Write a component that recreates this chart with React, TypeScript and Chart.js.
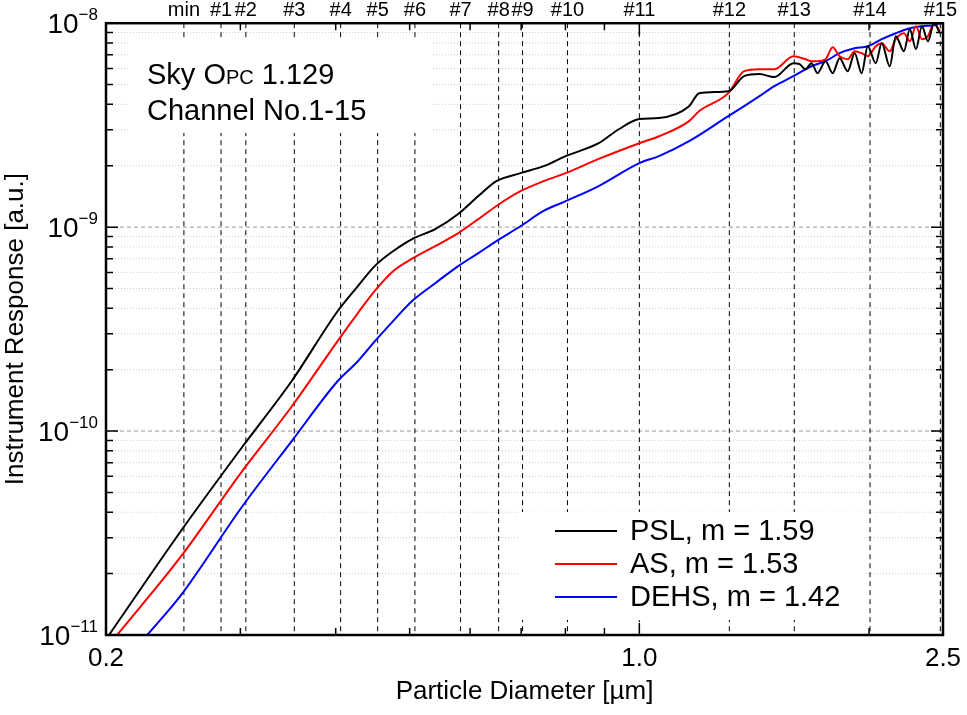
import { useEffect, useRef } from "react";
import { Chart, registerables } from "chart.js";
Chart.register(...registerables);

const channelLabels = ["min", "#1", "#2", "#3", "#4", "#5", "#6", "#7", "#8", "#9", "#10", "#11", "#12", "#13", "#14", "#15"];
const channelDiameters = [0.253, 0.283, 0.305, 0.353, 0.406, 0.454, 0.508, 0.583, 0.654, 0.703, 0.805, 1.0, 1.312, 1.596, 2.006, 2.48];

const pslD = [0.2018, 0.2502, 0.302, 0.3503, 0.4025, 0.4277, 0.4503, 0.4756, 0.5037, 0.5401, 0.5789, 0.6152, 0.6497, 0.6985, 0.749, 0.8006, 0.8845, 0.9399, 1.0, 1.061, 1.162, 1.198, 1.308, 1.372, 1.437, 1.503, 1.592, 1.622, 1.651, 1.681, 1.712, 1.754, 1.792, 1.83, 1.875, 1.915, 1.956, 1.992, 2.041, 2.078, 2.129, 2.168, 2.222, 2.262, 2.304, 2.346, 2.389, 2.433, 2.477];
const pslR = [0.001, 0.0032, 0.0084, 0.0176, 0.0388, 0.0514, 0.0646, 0.0762, 0.0874, 0.0978, 0.116, 0.142, 0.168, 0.184, 0.199, 0.223, 0.258, 0.302, 0.339, 0.343, 0.392, 0.454, 0.464, 0.55, 0.563, 0.544, 0.637, 0.63, 0.595, 0.637, 0.569, 0.651, 0.569, 0.674, 0.582, 0.713, 0.569, 0.771, 0.637, 0.798, 0.615, 0.864, 0.729, 0.935, 0.746, 0.967, 0.816, 1.0, 0.893];

const asD = [0.2068, 0.2502, 0.302, 0.3503, 0.4025, 0.4277, 0.4503, 0.4756, 0.5037, 0.5401, 0.5789, 0.6152, 0.6497, 0.6985, 0.749, 0.8006, 0.8845, 1.0, 1.061, 1.162, 1.198, 1.308, 1.372, 1.437, 1.503, 1.592, 1.651, 1.681, 1.712, 1.754, 1.792, 1.83, 1.875, 1.915, 1.956, 1.992, 2.041, 2.078, 2.129, 2.168, 2.222, 2.262, 2.304, 2.346, 2.389, 2.433, 2.477];
const asR = [0.001, 0.0024, 0.0064, 0.0132, 0.0277, 0.0379, 0.0488, 0.0608, 0.07, 0.0807, 0.0935, 0.1095, 0.127, 0.15, 0.168, 0.184, 0.216, 0.258, 0.279, 0.331, 0.371, 0.454, 0.582, 0.595, 0.595, 0.689, 0.666, 0.651, 0.651, 0.666, 0.763, 0.689, 0.666, 0.729, 0.713, 0.689, 0.771, 0.798, 0.729, 0.835, 0.893, 0.816, 0.967, 0.835, 0.864, 1.0, 0.914];

const dehsD = [0.2265, 0.2502, 0.302, 0.3503, 0.4025, 0.4277, 0.4503, 0.4756, 0.5037, 0.5401, 0.5789, 0.6152, 0.6497, 0.6985, 0.749, 0.8006, 0.8845, 1.0, 1.061, 1.162, 1.308, 1.372, 1.437, 1.503, 1.592, 1.681, 1.754, 1.83, 1.915, 1.992, 2.078, 2.168, 2.262, 2.346, 2.433, 2.477];
const dehsR = [0.001, 0.00155, 0.00429, 0.00893, 0.0176, 0.022, 0.0276, 0.0346, 0.0434, 0.0531, 0.0644, 0.0746, 0.0854, 0.101, 0.12, 0.134, 0.159, 0.206, 0.223, 0.264, 0.35, 0.392, 0.439, 0.491, 0.55, 0.615, 0.651, 0.713, 0.754, 0.771, 0.835, 0.893, 0.945, 0.967, 0.978, 1.0];

const SCALE = 1e-8;
const legendItems = [
  { label: "PSL, m = 1.59", color: "#000000" },
  { label: "AS, m = 1.53", color: "#ff0000" },
  { label: "DEHS, m = 1.42", color: "#0000ff" },
];
const yDecades = [-11, -10, -9, -8];
const xTickValues = [0.2, 1.0, 2.5];
const xTickLabels = ["0.2", "1.0", "2.5"];
const xMinor = [0.3, 0.4, 0.5, 0.6, 0.7, 0.8, 0.9, 2];
const FONT = "'Liberation Sans', Arial, sans-serif";

export default function App() {
  const ref = useRef<HTMLCanvasElement>(null);
  useEffect(() => {
    document.body.style.margin = "0";
    const pts = (d: number[], r: number[]) => d.map((x, i) => ({ x, y: r[i] * SCALE }));
    const deco = {
      id: "deco",
      beforeDatasetsDraw(chart: any) {
        const { ctx, chartArea: a, scales } = chart;
        const xs = scales.x, ys = scales.y;
        ctx.save();
        for (let e = -11; e < -8; e++) {
          for (let m = 1; m <= 9; m++) {
            const y = ys.getPixelForValue(m * Math.pow(10, e));
            ctx.beginPath();
            if (m === 1) { ctx.setLineDash([4, 3]); ctx.strokeStyle = "#999"; }
            else { ctx.setLineDash([1, 2]); ctx.strokeStyle = "#ccc"; }
            ctx.lineWidth = 1;
            ctx.moveTo(a.left, y); ctx.lineTo(a.right, y); ctx.stroke();
          }
        }
        ctx.setLineDash([5, 4]); ctx.strokeStyle = "#000"; ctx.lineWidth = 1;
        ctx.font = `20px ${FONT}`; ctx.fillStyle = "#000"; ctx.textAlign = "center"; ctx.textBaseline = "middle";
        channelDiameters.forEach((d, i) => {
          const x = xs.getPixelForValue(d);
          ctx.beginPath(); ctx.moveTo(x, a.top); ctx.lineTo(x, a.bottom); ctx.stroke();
          ctx.fillText(channelLabels[i], x, 10);
        });
        ctx.setLineDash([]);
        ctx.fillStyle = "#fff";
        ctx.fillRect(128, 40, 305, 93);
        ctx.fillStyle = "#000"; ctx.textAlign = "left"; ctx.textBaseline = "alphabetic";
        ctx.font = `29px ${FONT}`;
        let x0 = 147;
        ctx.fillText("Sky O", x0, 84); x0 += ctx.measureText("Sky O").width;
        ctx.font = `20px ${FONT}`; ctx.fillText("PC", x0, 84); x0 += ctx.measureText("PC").width;
        ctx.font = `29px ${FONT}`; ctx.fillText(" 1.129", x0, 84);
        ctx.fillText("Channel No.1-15", 147, 120);
        ctx.fillStyle = "#fff";
        ctx.fillRect(518, 512, 345, 108);
        ctx.font = `29px ${FONT}`; ctx.textBaseline = "middle";
        legendItems.forEach((it, i) => {
          const y = 531 + i * 33;
          ctx.strokeStyle = it.color; ctx.lineWidth = 2;
          ctx.beginPath(); ctx.moveTo(555, y); ctx.lineTo(617, y); ctx.stroke();
          ctx.fillStyle = "#000"; ctx.fillText(it.label, 630, y + 1);
        });
        ctx.restore();
      },
      afterDraw(chart: any) {
        const { ctx, chartArea: a, scales } = chart;
        const xs = scales.x, ys = scales.y;
        ctx.save();
        ctx.strokeStyle = "#000"; ctx.lineWidth = 1.5;
        for (let e = -11; e <= -8; e++) {
          for (let m = 1; m <= 9; m++) {
            const v = m * Math.pow(10, e);
            if (v > 1.0001e-8) break;
            const y = ys.getPixelForValue(v);
            const L = m === 1 ? 12 : 7;
            ctx.beginPath();
            ctx.moveTo(a.left, y); ctx.lineTo(a.left + L, y);
            ctx.moveTo(a.right, y); ctx.lineTo(a.right - L, y);
            ctx.stroke();
          }
        }
        [...xTickValues, ...xMinor].forEach((v) => {
          const x = xs.getPixelForValue(v);
          const L = v === 1 ? 12 : 7;
          ctx.beginPath();
          ctx.moveTo(x, a.bottom); ctx.lineTo(x, a.bottom - L);
          ctx.moveTo(x, a.top); ctx.lineTo(x, a.top + L);
          ctx.stroke();
        });
        ctx.lineWidth = 2.5;
        ctx.strokeRect(a.left, a.top, a.right - a.left, a.bottom - a.top);
        // y tick labels: 10 with superscript exponent
        ctx.fillStyle = "#000"; ctx.textBaseline = "alphabetic"; ctx.textAlign = "left";
        yDecades.forEach((e) => {
          const y = ys.getPixelForValue(Math.pow(10, e));
          const sup = "−" + String(-e);
          ctx.font = `17px ${FONT}`; const ws = ctx.measureText(sup).width;
          ctx.font = `28px ${FONT}`; const wb = ctx.measureText("10").width;
          const right = a.left - 8;
          ctx.fillText("10", right - ws - wb, y + 10);
          ctx.font = `17px ${FONT}`; ctx.fillText(sup, right - ws, y - 3);
        });
        ctx.font = `26px ${FONT}`; ctx.textAlign = "center"; ctx.textBaseline = "middle";
        xTickValues.forEach((v, i) => ctx.fillText(xTickLabels[i], xs.getPixelForValue(v), 659));
        ctx.restore();
      },
    };
    const chart = new Chart(ref.current!, {
      type: "line",
      data: {
        datasets: [
          { data: pts(pslD, pslR), borderColor: "#000", borderWidth: 2, pointRadius: 0, cubicInterpolationMode: "monotone" },
          { data: pts(asD, asR), borderColor: "#ff0000", borderWidth: 2, pointRadius: 0, cubicInterpolationMode: "monotone" },
          { data: pts(dehsD, dehsR), borderColor: "#0000ff", borderWidth: 2, pointRadius: 0, cubicInterpolationMode: "monotone" },
        ] as any,
      },
      plugins: [deco],
      options: {
        animation: false,
        responsive: false,
        layout: { padding: { top: 22, right: 24, left: 0, bottom: 0 } },
        plugins: { legend: { display: false }, tooltip: { enabled: false } },
        scales: {
          x: {
            type: "logarithmic", min: 0.2, max: 2.5,
            grid: { display: false }, border: { display: false },
            afterBuildTicks: (s: any) => { s.ticks = xTickValues.map((value) => ({ value })); },
            afterFit: (s: any) => { s.height = 80; },
            ticks: { color: "#000", font: { size: 26, family: FONT }, padding: 10, maxRotation: 0, callback: () => "" },
            title: { display: true, text: "Particle Diameter [µm]", color: "#000", font: { size: 26, family: FONT }, padding: { top: 4, bottom: 8 } },
          },
          y: {
            type: "logarithmic", min: 1e-11, max: 1e-8,
            grid: { display: false }, border: { display: false },
            afterBuildTicks: (s: any) => { s.ticks = yDecades.map((e) => ({ value: Math.pow(10, e) })); },
            afterFit: (s: any) => { s.width = 106; },
            ticks: { color: "#000", font: { size: 22, family: FONT }, padding: 10, callback: () => "" },
            title: { display: true, text: "Instrument Response [a.u.]", color: "#000", font: { size: 26, family: FONT }, padding: { top: 0, bottom: 4 } },
          },
        },
      } as any,
    });
    return () => chart.destroy();
  }, []);
  return <canvas ref={ref} width={967} height={715} style={{ display: "block" }} />;
}
